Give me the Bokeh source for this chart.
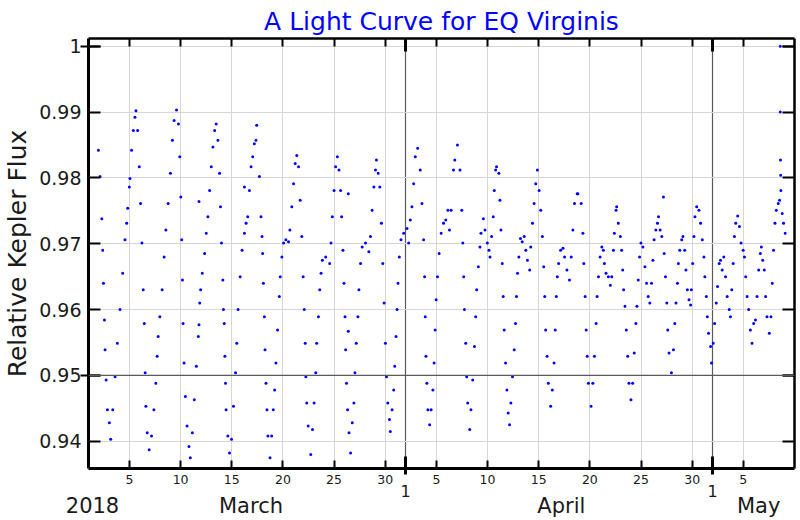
from bokeh.plotting import figure
from bokeh.models import FixedTicker, LinearAxis, Span, ColumnDataSource
from bokeh.embed import file_html
from bokeh.resources import INLINE

# ---- data: time in days since 2018-03-01 00:00, relative Kepler flux ----
days = [
    0.97, 1.13, 1.30, 1.39, 1.46, 1.56, 1.62, 1.72, 1.85, 2.04, 2.17,
    2.37, 2.60, 2.82, 3.08, 3.34, 3.57, 3.73, 3.83, 3.99, 4.05, 4.21, 4.38, 4.54, 4.64,
    4.80, 4.96, 5.09, 5.22, 5.35, 5.45, 5.54, 5.61, 5.74, 5.93,
    6.16, 6.39, 6.58, 6.71, 6.81, 6.97, 7.20, 7.39, 7.56, 7.78, 8.01, 8.20, 8.37, 8.60,
    8.79, 8.92, 9.02, 9.11, 9.18, 9.24, 9.34, 9.47, 9.63, 9.82, 9.95,
    10.15, 10.34, 10.54, 10.73, 10.80, 10.87, 10.96, 11.12, 11.35, 11.51, 11.67, 11.84, 12.00, 12.16, 12.33, 12.48,
    12.65, 12.81, 12.90, 13.00, 13.13, 13.19, 13.26, 13.33, 13.39, 13.45, 13.62, 13.78,
    13.98, 14.17, 14.37, 14.49, 14.62, 14.82, 15.01, 15.24, 15.40, 15.56, 15.73, 15.89, 16.05, 16.21, 16.37, 16.44,
    16.70, 16.86, 16.96, 17.02, 17.09, 17.19, 17.25, 17.35, 17.44, 17.54, 17.74,
    17.90, 18.06, 18.19, 18.32, 18.48, 18.65, 18.74, 18.90, 19.07, 19.29, 19.55, 19.68, 19.87, 20.04, 20.20, 20.36,
    20.53, 20.69, 20.85, 20.98, 21.08, 21.18, 21.24, 21.33, 21.47, 21.72,
    21.89, 22.05, 22.21, 22.30, 22.47, 22.60, 22.73, 22.86, 23.18, 23.57, 23.70, 23.83, 24.00, 24.15, 24.32,
    24.48, 24.64, 24.74, 24.87, 24.97, 25.07, 25.13, 25.22, 25.32, 25.46, 25.61,
    25.78, 25.94, 26.04, 26.17, 26.33, 26.43, 26.59, 26.75, 27.07, 27.40, 27.56, 27.72, 27.89, 28.05, 28.14,
    28.31, 28.47, 28.63, 28.76, 28.89, 29.02, 29.12, 29.25, 29.41, 29.50,
    29.67, 29.83, 29.93, 30.06, 30.16, 30.25, 30.38, 30.54, 30.81, 31.13, 31.29, 31.45, 31.61, 31.78, 31.94, 32.17,
    32.42, 32.59, 32.75, 32.85, 32.91, 32.98, 33.07, 33.17, 33.34,
    33.49, 33.66, 33.78, 33.88, 33.98, 34.11, 34.27, 34.47, 34.70, 34.92, 35.12, 35.28, 35.44, 35.67, 35.80, 36.06,
    36.31, 36.48, 36.58, 36.67, 36.74, 36.87, 36.96, 37.06, 37.26,
    37.38, 37.55, 37.72, 37.84, 37.94, 38.10, 38.26, 38.36, 38.59, 38.75, 38.98, 39.14, 39.24, 39.40, 39.56, 39.66, 39.79, 39.88, 40.11,
    40.21, 40.31, 40.44, 40.53, 40.63, 40.76, 40.89, 41.02, 41.15,
    41.28, 41.44, 41.61, 41.73, 41.83, 41.93, 42.06, 42.22, 42.39, 42.58, 42.74, 42.90, 43.12, 43.22, 43.39, 43.55, 43.71, 43.87,
    44.04, 44.20, 44.36, 44.49, 44.59, 44.68, 44.82, 44.94, 45.17,
    45.33, 45.50, 45.62, 45.72, 45.82, 45.95, 46.14, 46.37, 46.53, 46.76, 47.01, 47.18, 47.34, 47.50, 47.76, 47.83,
    48.15, 48.32, 48.41, 48.54, 48.64, 48.74, 48.86, 49.12,
    49.29, 49.45, 49.61, 49.71, 49.84, 50.00, 50.17, 50.32, 50.42, 50.58, 50.81, 51.00, 51.14, 51.30, 51.39, 51.56, 51.62,
    51.78, 51.98, 52.11, 52.21, 52.30, 52.43, 52.56, 52.70, 52.82, 53.02,
    53.18, 53.34, 53.50, 53.60, 53.73, 53.86, 53.99, 54.18, 54.38, 54.54, 54.70, 54.86, 55.03, 55.16, 55.28, 55.45, 55.61, 55.71,
    55.87, 56.03, 56.26, 56.39, 56.52, 56.61, 56.74, 56.97,
    57.17, 57.30, 57.42, 57.56, 57.65, 57.78, 57.98, 58.10,
    58.27, 58.39, 58.53, 58.69, 58.85, 58.92, 59.05, 59.17, 59.27, 59.44,
    59.66, 59.82, 59.99, 60.15, 60.24, 60.38, 60.48, 60.60, 60.80, 60.89,
    61.06, 61.19, 61.35, 61.48, 61.64, 61.77, 61.93, 62.09, 62.26, 62.42, 62.62, 62.74,
    62.87, 63.01, 63.13, 63.26, 63.45, 63.62, 63.78, 63.98, 64.11, 64.23, 64.37, 64.52, 64.69, 64.85,
    65.01, 65.18, 65.34, 65.50, 65.66, 65.76, 65.89, 66.05, 66.18, 66.31, 66.54,
    66.70, 66.83, 66.95, 67.09, 67.22, 67.41, 67.54, 67.67, 67.80, 67.93, 68.09,
    # isolated points
    10.80, 15.24, 25.39, 25.39, 56.19, 67.61, 67.61, 67.63, 67.65,
]

flux = [
    0.9842, 0.9802, 0.9738, 0.9690, 0.9640, 0.9584, 0.9539, 0.9493, 0.9448, 0.9428, 0.9403,
    0.9448, 0.9498, 0.9549, 0.9600, 0.9655, 0.9706, 0.9731, 0.9754, 0.9786, 0.9799, 0.9842, 0.9872, 0.9892, 0.9902,
    0.9872, 0.9817, 0.9761, 0.9701, 0.9630, 0.9579, 0.9504, 0.9453, 0.9413, 0.9387,
    0.9408, 0.9448, 0.9488, 0.9529, 0.9559, 0.9589, 0.9630, 0.9680, 0.9721, 0.9761, 0.9807, 0.9857, 0.9887, 0.9903,
    0.9882, 0.9832, 0.9771, 0.9706, 0.9645, 0.9579, 0.9519, 0.9468, 0.9423, 0.9392, 0.9375,
    0.9413, 0.9463, 0.9514, 0.9559, 0.9577, 0.9610, 0.9630, 0.9655, 0.9685, 0.9716, 0.9741, 0.9781, 0.9817, 0.9847, 0.9872, 0.9882,
    0.9857, 0.9807, 0.9756, 0.9701, 0.9645, 0.9600, 0.9579, 0.9529, 0.9488, 0.9448, 0.9408, 0.9382,
    0.9403, 0.9453, 0.9504, 0.9549, 0.9600, 0.9650, 0.9690, 0.9716, 0.9731, 0.9741, 0.9781, 0.9817, 0.9832, 0.9852, 0.9857, 0.9880,
    0.9802, 0.9741, 0.9711, 0.9685, 0.9640, 0.9589, 0.9539, 0.9488, 0.9448, 0.9408, 0.9375,
    0.9408, 0.9448, 0.9478, 0.9519, 0.9569, 0.9620, 0.9650, 0.9680, 0.9701, 0.9706, 0.9703, 0.9721, 0.9756, 0.9791, 0.9822, 0.9834,
    0.9817, 0.9766, 0.9711, 0.9650, 0.9600, 0.9549, 0.9498, 0.9458, 0.9423, 0.9380,
    0.9418, 0.9458, 0.9504, 0.9549, 0.9589, 0.9630, 0.9655, 0.9675, 0.9680, 0.9670, 0.9701, 0.9741, 0.9781, 0.9817, 0.9832,
    0.9812, 0.9781, 0.9741, 0.9690, 0.9640, 0.9589, 0.9539, 0.9488, 0.9448, 0.9413, 0.9382,
    0.9428, 0.9458, 0.9504, 0.9549, 0.9589, 0.9630, 0.9670, 0.9695, 0.9701, 0.9688, 0.9711, 0.9751, 0.9786, 0.9812, 0.9827,
    0.9807, 0.9786, 0.9731, 0.9670, 0.9610, 0.9549, 0.9498, 0.9458, 0.9433, 0.9415,
    0.9448, 0.9478, 0.9514, 0.9559, 0.9600, 0.9640, 0.9680, 0.9706, 0.9716, 0.9723, 0.9701, 0.9736, 0.9756, 0.9791, 0.9832, 0.9845,
    0.9812, 0.9761, 0.9706, 0.9650, 0.9589, 0.9529, 0.9488, 0.9448, 0.9425,
    0.9448, 0.9478, 0.9519, 0.9569, 0.9615, 0.9650, 0.9685, 0.9716, 0.9731, 0.9736, 0.9751, 0.9721, 0.9751, 0.9812, 0.9827, 0.9850,
    0.9812, 0.9751, 0.9701, 0.9650, 0.9600, 0.9549, 0.9498, 0.9458, 0.9418,
    0.9448, 0.9493, 0.9544, 0.9589, 0.9630, 0.9665, 0.9695, 0.9716, 0.9738, 0.9721, 0.9701, 0.9690, 0.9680, 0.9711, 0.9741, 0.9781, 0.9812, 0.9817, 0.9807,
    0.9766, 0.9721, 0.9670, 0.9620, 0.9569, 0.9519, 0.9478, 0.9443, 0.9425,
    0.9458, 0.9498, 0.9539, 0.9579, 0.9620, 0.9655, 0.9680, 0.9708, 0.9703, 0.9711, 0.9690, 0.9675, 0.9660, 0.9695, 0.9731, 0.9761, 0.9791, 0.9812,
    0.9781, 0.9751, 0.9711, 0.9665, 0.9620, 0.9569, 0.9529, 0.9488, 0.9453,
    0.9478, 0.9519, 0.9569, 0.9620, 0.9650, 0.9670, 0.9690, 0.9693, 0.9680, 0.9660, 0.9645, 0.9680, 0.9721, 0.9761, 0.9776, 0.9776,
    0.9761, 0.9716, 0.9670, 0.9620, 0.9569, 0.9529, 0.9488, 0.9453,
    0.9488, 0.9529, 0.9579, 0.9620, 0.9650, 0.9680, 0.9695, 0.9690, 0.9670, 0.9655, 0.9650, 0.9637, 0.9650, 0.9690, 0.9716, 0.9751, 0.9756,
    0.9731, 0.9711, 0.9690, 0.9660, 0.9630, 0.9605, 0.9569, 0.9529, 0.9488, 0.9463,
    0.9488, 0.9534, 0.9579, 0.9605, 0.9645, 0.9680, 0.9701, 0.9695, 0.9665, 0.9640, 0.9620, 0.9610, 0.9640, 0.9675, 0.9706, 0.9721, 0.9731, 0.9741,
    0.9721, 0.9711, 0.9685, 0.9650, 0.9610, 0.9569, 0.9534, 0.9504,
    0.9539, 0.9579, 0.9610, 0.9640, 0.9670, 0.9690, 0.9706, 0.9711,
    0.9690, 0.9660, 0.9630, 0.9615, 0.9607, 0.9630, 0.9670, 0.9711, 0.9741, 0.9756,
    0.9751, 0.9731, 0.9706, 0.9680, 0.9650, 0.9620, 0.9589, 0.9564, 0.9544, 0.9519,
    0.9549, 0.9579, 0.9610, 0.9635, 0.9670, 0.9675, 0.9660, 0.9680, 0.9650, 0.9620, 0.9600, 0.9589,
    0.9630, 0.9670, 0.9711, 0.9731, 0.9742, 0.9726, 0.9701, 0.9690, 0.9680, 0.9650, 0.9620, 0.9600, 0.9569, 0.9549,
    0.9579, 0.9584, 0.9620, 0.9660, 0.9685, 0.9695, 0.9675, 0.9660, 0.9620, 0.9589, 0.9564,
    0.9589, 0.9640, 0.9690, 0.9731, 0.9751, 0.9761, 0.9766, 0.9781, 0.9746, 0.9731, 0.9716,
    # isolated points
    0.9764, 0.9786, 0.9776, 0.9567, 0.9771, 1.0000, 0.9900, 0.9827, 0.9804,
]

# axis ticks (days since 2018-03-01)
day_ticks = [4, 9, 14, 19, 24, 29, 34, 39, 44, 49, 54, 59, 64]
day_labels = ["5", "10", "15", "20", "25", "30", "5", "10", "15", "20", "25", "30", "5"]
month_starts = [31, 61]
month_start_labels = ["1", "1"]
month_name_pos = [0.39, 15.88, 46.21, 65.5]
month_names = ["2018", "March", "April", "May"]
flux_ticks = [0.94, 0.95, 0.96, 0.97, 0.98, 0.99, 1.0]
flux_labels = ["0.94", "0.95", "0.96", "0.97", "0.98", "0.99", "1"]
flux_long_ticks = [0.95, 1.0]

X_RANGE = (0, 69)
Y_RANGE = (0.935864, 1.001167)
FONT = "DejaVu Sans"
INK = "#1a1a1a"

p = figure(width=800, height=520, x_range=X_RANGE, y_range=Y_RANGE,
           output_backend="svg", toolbar_location=None,
           title="A Light Curve for EQ Virginis",
           min_border_left=85, min_border_right=6, min_border_top=38, min_border_bottom=51)
p.background_fill_color = "white"
p.border_fill_color = "white"
p.outline_line_color = None

p.title.text_font = FONT
p.title.text_font_size = "25px"
p.title.text_font_style = "normal"
p.title.text_color = "blue"
p.title.align = "center"
p.title.standoff = 5

src = ColumnDataSource(dict(t=days, f=flux))
p.scatter("t", "f", source=src, size=3, color="blue", line_color=None, marker="circle")

x_ticker = FixedTicker(ticks=day_ticks, minor_ticks=month_starts)
y_ticker = FixedTicker(ticks=flux_ticks, minor_ticks=flux_long_ticks)

# bottom axis: day numbers
xa = p.xaxis[0]
xa.ticker = x_ticker
xa.major_label_overrides = {t: l for t, l in zip(day_ticks, day_labels)}
xa.major_tick_in = 8
xa.major_tick_out = 0
xa.major_tick_line_width = 2
xa.minor_tick_in = 12
xa.minor_tick_out = 6
xa.minor_tick_line_width = 3
xa.axis_line_width = 3
xa.major_label_text_font = FONT
xa.major_label_text_font_size = "12.5px"
xa.major_label_text_color = INK
xa.major_label_standoff = 0

# second row below: "1" at month starts
xb = LinearAxis(ticker=FixedTicker(ticks=month_starts),
                major_label_overrides={t: l for t, l in zip(month_starts, month_start_labels)})
xb.axis_line_color = None
xb.major_tick_line_color = None
xb.minor_tick_line_color = None
xb.major_tick_in = 0
xb.major_tick_out = 0
xb.major_label_text_font = FONT
xb.major_label_text_font_size = "16px"
xb.major_label_text_color = INK
xb.major_label_standoff = -2
p.add_layout(xb, "below")

# third row below: year and month names
xc = LinearAxis(ticker=FixedTicker(ticks=month_name_pos),
                major_label_overrides={t: l for t, l in zip(month_name_pos, month_names)})
xc.axis_line_color = None
xc.major_tick_line_color = None
xc.minor_tick_line_color = None
xc.major_tick_in = 0
xc.major_tick_out = 0
xc.major_label_text_font = FONT
xc.major_label_text_font_size = "21px"
xc.major_label_text_color = INK
xc.major_label_standoff = -6
p.add_layout(xc, "below")

# left axis
ya = p.yaxis[0]
ya.ticker = y_ticker
ya.major_label_overrides = {t: l for t, l in zip(flux_ticks, flux_labels)}
ya.major_tick_in = 12
ya.major_tick_out = 0
ya.major_tick_line_width = 2
ya.minor_tick_in = 12
ya.minor_tick_out = 8
ya.minor_tick_line_width = 2
ya.axis_line_width = 3
ya.major_label_text_font = FONT
ya.major_label_text_font_size = "19px"
ya.major_label_text_color = INK
ya.major_label_standoff = -1
ya.axis_label = "Relative Kepler Flux"
ya.axis_label_text_font = FONT
ya.axis_label_text_font_size = "25px"
ya.axis_label_text_font_style = "normal"
ya.axis_label_text_color = INK
ya.axis_label_standoff = 4

# top and right axes (ticks only)
top = LinearAxis(ticker=x_ticker, major_label_overrides={t: "" for t in day_ticks})
top.major_tick_in = 8
top.major_tick_out = 0
top.major_tick_line_width = 2
top.minor_tick_in = 13
top.minor_tick_out = 0
top.minor_tick_line_width = 3
top.axis_line_width = 2.5
top.major_label_standoff = 0
top.major_label_text_font_size = "0px"
p.add_layout(top, "above")

right = LinearAxis(ticker=y_ticker, major_label_overrides={t: "" for t in flux_ticks})
right.major_tick_in = 12
right.major_tick_out = 0
right.major_tick_line_width = 2
right.minor_tick_in = 12
right.minor_tick_out = 0
right.minor_tick_line_width = 2
right.axis_line_width = 2.5
right.major_label_standoff = 0
right.major_label_text_font_size = "0px"
p.add_layout(right, "right")

# grids
p.xgrid.grid_line_color = "#d6d6d6"
p.xgrid.minor_grid_line_color = "#5a5a5a"
p.xgrid.minor_grid_line_width = 1.2
p.ygrid.grid_line_color = "#d6d6d6"
p.add_layout(Span(location=flux_long_ticks[0], dimension="width", line_color="#5a5a5a", line_width=1.2))

open("out.html", "w").write(file_html(p, INLINE))
